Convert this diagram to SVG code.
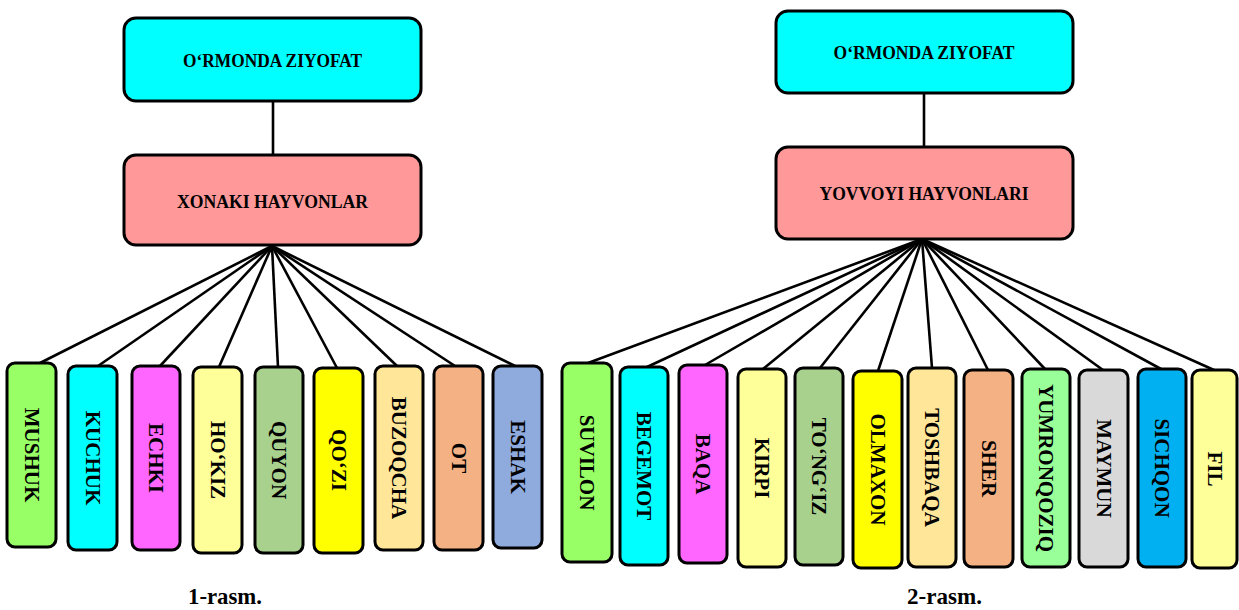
<svg xmlns="http://www.w3.org/2000/svg" width="1239" height="610" viewBox="0 0 1239 610">
<style>
.box{stroke:#000;stroke-width:3}
.leaf{stroke:#000;stroke-width:3}
.t{font-family:"Liberation Serif","Times New Roman",serif;font-weight:bold;fill:#000}
.h{font-size:19px;text-anchor:middle}
.l{font-size:21px;text-anchor:middle;dominant-baseline:central}
.cap{font-size:23px}
.c{stroke:#000;stroke-width:2.6;fill:none}
</style>
<rect width="1239" height="610" fill="#fff"/>
<g id="connectors">
<line class="c" x1="273" y1="101" x2="273" y2="155"/>
<line class="c" x1="924" y1="93" x2="924" y2="147"/>
<line class="c" x1="272" y1="246" x2="40" y2="363"/>
<line class="c" x1="272" y1="246" x2="98" y2="366"/>
<line class="c" x1="272" y1="246" x2="160" y2="366"/>
<line class="c" x1="272" y1="246" x2="219" y2="367"/>
<line class="c" x1="272" y1="246" x2="278" y2="367"/>
<line class="c" x1="272" y1="246" x2="337" y2="368"/>
<line class="c" x1="272" y1="246" x2="397" y2="366"/>
<line class="c" x1="272" y1="246" x2="455" y2="366"/>
<line class="c" x1="272" y1="246" x2="515" y2="366"/>
<line class="c" x1="922" y1="239" x2="588" y2="363"/>
<line class="c" x1="922" y1="239" x2="647" y2="367"/>
<line class="c" x1="922" y1="239" x2="705" y2="365"/>
<line class="c" x1="922" y1="239" x2="763" y2="369"/>
<line class="c" x1="922" y1="239" x2="820" y2="368"/>
<line class="c" x1="922" y1="239" x2="878" y2="371"/>
<line class="c" x1="922" y1="239" x2="932" y2="368"/>
<line class="c" x1="922" y1="239" x2="988" y2="370"/>
<line class="c" x1="922" y1="239" x2="1045" y2="369"/>
<line class="c" x1="922" y1="239" x2="1103" y2="370"/>
<line class="c" x1="922" y1="239" x2="1161" y2="369"/>
<line class="c" x1="922" y1="239" x2="1214" y2="370"/>
</g>
<g id="root1"><rect class="box" x="124" y="18" width="297" height="83" rx="12" fill="#00FFFF"/><text class="t h" x="272.5" y="67" textLength="179" lengthAdjust="spacingAndGlyphs">O‘RMONDA ZIYOFAT</text></g>
<g id="cat1"><rect class="box" x="124" y="155" width="297" height="90" rx="12" fill="#FF9999"/><text class="t h" x="272.5" y="208" textLength="191" lengthAdjust="spacingAndGlyphs">XONAKI HAYVONLAR</text></g>
<g id="root2"><rect class="box" x="776" y="11" width="297" height="82" rx="12" fill="#00FFFF"/><text class="t h" x="924" y="59" textLength="181" lengthAdjust="spacingAndGlyphs">O‘RMONDA ZIYOFAT</text></g>
<g id="cat2"><rect class="box" x="776" y="147" width="297" height="92" rx="12" fill="#FF9999"/><text class="t h" x="924" y="200" textLength="209" lengthAdjust="spacingAndGlyphs">YOVVOYI HAYVONLARI</text></g>
<g id="mushuk"><rect class="leaf" x="7" y="363" width="49" height="184" rx="8" fill="#99FF66"/><text class="t l" transform="translate(31.5,455) rotate(90)">MUSHUK</text></g>
<g id="kuchuk"><rect class="leaf" x="68" y="366" width="49" height="184" rx="8" fill="#00FFFF"/><text class="t l" transform="translate(92.5,458) rotate(90)">KUCHUK</text></g>
<g id="echki"><rect class="leaf" x="132" y="366" width="48" height="184" rx="8" fill="#FF66FF"/><text class="t l" transform="translate(156,458) rotate(90)">ECHKI</text></g>
<g id="hokiz"><rect class="leaf" x="193" y="367" width="49" height="186" rx="8" fill="#FFFF99"/><text class="t l" transform="translate(217.5,460) rotate(90)">HO‘KIZ</text></g>
<g id="quyon"><rect class="leaf" x="255" y="367" width="48" height="186" rx="8" fill="#A9D18E"/><text class="t l" transform="translate(279,460) rotate(90)">QUYON</text></g>
<g id="qozi"><rect class="leaf" x="314" y="368" width="49" height="185" rx="8" fill="#FFFF00"/><text class="t l" transform="translate(338.5,460) rotate(90)">QO‘ZI</text></g>
<g id="buzoqcha"><rect class="leaf" x="375" y="366" width="48" height="184" rx="8" fill="#FFE699"/><text class="t l" transform="translate(399,458) rotate(90)">BUZOQCHA</text></g>
<g id="ot"><rect class="leaf" x="434" y="366" width="49" height="184" rx="8" fill="#F4B183"/><text class="t l" transform="translate(458.5,458) rotate(90)">OT</text></g>
<g id="eshak"><rect class="leaf" x="493" y="366" width="49" height="182" rx="8" fill="#8FAADC"/><text class="t l" transform="translate(517.5,457) rotate(90)">ESHAK</text></g>
<g id="suvilon"><rect class="leaf" x="562" y="363" width="50" height="199" rx="8" fill="#99FF66"/><text class="t l" transform="translate(587,462.5) rotate(90)">SUVILON</text></g>
<g id="begemot"><rect class="leaf" x="620" y="367" width="48" height="198" rx="8" fill="#00FFFF"/><text class="t l" transform="translate(644,466) rotate(90)">BEGEMOT</text></g>
<g id="baqa"><rect class="leaf" x="679" y="365" width="48" height="198" rx="8" fill="#FF66FF"/><text class="t l" transform="translate(703,464) rotate(90)">BAQA</text></g>
<g id="kirpi"><rect class="leaf" x="738" y="369" width="48" height="198" rx="8" fill="#FFFF99"/><text class="t l" transform="translate(762,468) rotate(90)">KIRPI</text></g>
<g id="tongiz"><rect class="leaf" x="795" y="368" width="48" height="197" rx="8" fill="#A9D18E"/><text class="t l" transform="translate(819,466.5) rotate(90)">TO‘NG‘IZ</text></g>
<g id="olmaxon"><rect class="leaf" x="853" y="371" width="49" height="197" rx="8" fill="#FFFF00"/><text class="t l" transform="translate(877.5,469.5) rotate(90)">OLMAXON</text></g>
<g id="toshbaqa"><rect class="leaf" x="908" y="368" width="48" height="199" rx="8" fill="#FFE699"/><text class="t l" transform="translate(932,467.5) rotate(90)">TOSHBAQA</text></g>
<g id="sher"><rect class="leaf" x="964" y="370" width="49" height="197" rx="8" fill="#F4B183"/><text class="t l" transform="translate(988.5,468.5) rotate(90)">SHER</text></g>
<g id="yumronqoziq"><rect class="leaf" x="1022" y="369" width="48" height="198" rx="8" fill="#99FF99"/><text class="t l" transform="translate(1046,468) rotate(90)">YUMRONQOZIQ</text></g>
<g id="maymun"><rect class="leaf" x="1079" y="370" width="49" height="197" rx="8" fill="#D9D9D9"/><text class="t l" transform="translate(1103.5,468.5) rotate(90)">MAYMUN</text></g>
<g id="sichqon"><rect class="leaf" x="1138" y="369" width="48" height="198" rx="8" fill="#00B0F0"/><text class="t l" transform="translate(1162,468) rotate(90)">SICHQON</text></g>
<g id="fil"><rect class="leaf" x="1192" y="370" width="45" height="198" rx="8" fill="#FFFF99"/><text class="t l" transform="translate(1214.5,469) rotate(90)">FIL</text></g>
<g id="captions">
<text class="t cap" x="188" y="604" textLength="74" lengthAdjust="spacingAndGlyphs">1-rasm.</text>
<text class="t cap" x="907" y="604" textLength="75" lengthAdjust="spacingAndGlyphs">2-rasm.</text>
</g>
</svg>
